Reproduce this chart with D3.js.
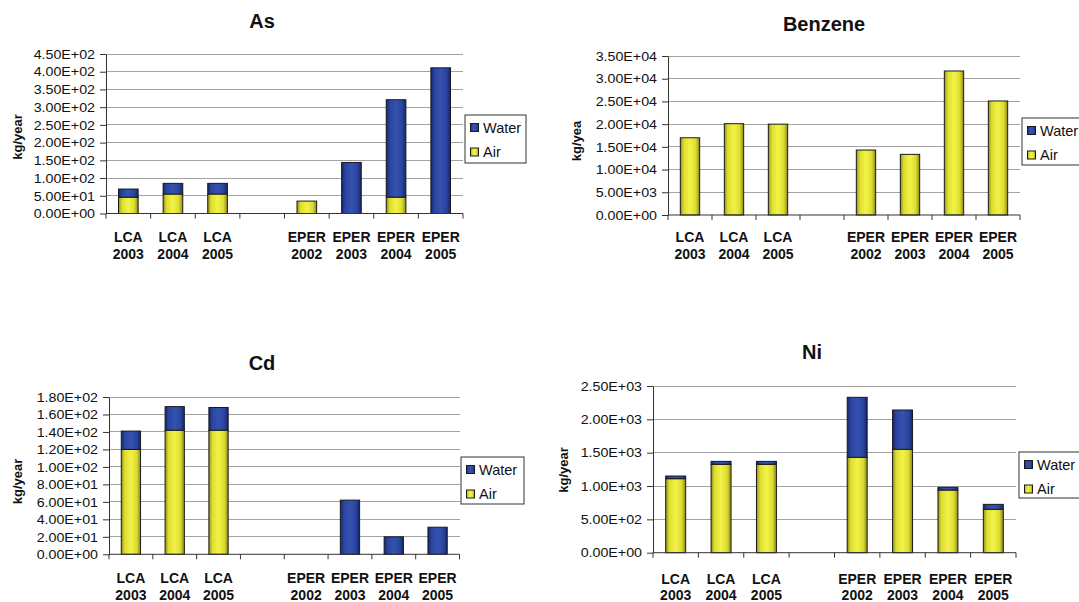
<!DOCTYPE html>
<html><head><meta charset="utf-8">
<script src="https://cdn.jsdelivr.net/npm/d3@7"></script>
<style>
body{margin:0;background:#fff;}
svg{display:block;font-family:"Liberation Sans",Arial,sans-serif;}
</style>
</head><body>
<svg id="c" width="1079" height="602"></svg>
<script>
// ---------- DATA ----------
const categories = ["LCA|2003","LCA|2004","LCA|2005","","EPER|2002","EPER|2003","EPER|2004","EPER|2005"];
const seriesNames = ["Water","Air"];

const asAir   = [46, 55, 55, 0, 35, 0, 46, 0];
const asWater = [23, 30, 30, 0, 0, 144, 275, 411];
const asTicks = [0, 50, 100, 150, 200, 250, 300, 350, 400, 450];

const benzeneAir   = [17000, 20100, 20000, 0, 14300, 13350, 31700, 25100];
const benzeneWater = [0, 0, 0, 0, 0, 0, 0, 0];
const benzeneTicks = [0, 5000, 10000, 15000, 20000, 25000, 30000, 35000];

const cdAir   = [120, 142, 142, 0, 0, 0, 0, 0];
const cdWater = [21, 27, 26, 0, 0, 62, 20, 31];
const cdTicks = [0, 20, 40, 60, 80, 100, 120, 140, 160, 180];

const niAir   = [1110, 1325, 1325, 0, 1430, 1550, 940, 650];
const niWater = [40, 45, 45, 0, 900, 590, 40, 75];
const niTicks = [0, 500, 1000, 1500, 2000, 2500];

const titles = ["As", "Benzene", "Cd", "Ni"];
const yLabels = ["kg/year", "kg/yea", "kg/year", "kg/year"];

// ---------- LAYOUT ----------
const layouts = [
  {x0:106, x1:463, y0:54, y1:213.5, tx:262, ty:21, lx:17, ly:137, leg:[465,115,61,48], xl:[237,254]},
  {x0:668, x1:1020, y0:56, y1:215, tx:824, ty:24, lx:576, ly:141, leg:[1022,118,61,47], xl:[236.7,254]},
  {x0:109, x1:459.5, y0:397, y1:554.3, tx:262, ty:362.7, lx:17, ly:481.5, leg:[461,457,63,47], xl:[578,594.5]},
  {x0:653, x1:1016, y0:386, y1:552.7, tx:812, ty:352.4, lx:563, ly:470, leg:[1019,452,61,46], xl:[578.5,594.5]}
];
const airSeries = [asAir, benzeneAir, cdAir, niAir];
const waterSeries = [asWater, benzeneWater, cdWater, niWater];
const tickSets = [asTicks, benzeneTicks, cdTicks, niTicks];

const svg = d3.select("#c");
const defs = svg.append("defs");
function grad(id, stops){
  const g = defs.append("linearGradient").attr("id", id).attr("x1","0").attr("x2","1").attr("y1","0").attr("y2","0");
  stops.forEach(s => g.append("stop").attr("offset", s[0]).attr("stop-color", s[1]));
}
grad("gAir", [[0,"#8f8f1a"],[0.18,"#dede30"],[0.5,"#f2f248"],[0.8,"#dcdc30"],[1,"#8a8a18"]]);
grad("gWater", [[0,"#17256a"],[0.18,"#2a45a0"],[0.5,"#3552ae"],[0.8,"#2a45a0"],[1,"#16246a"]]);
const fills = {Air:"url(#gAir)", Water:"url(#gWater)"};

function sci(v){
  const s = v.toExponential(2).split("e");
  const e = parseInt(s[1], 10);
  return s[0] + "E" + (e < 0 ? "-" : "+") + String(Math.abs(e)).padStart(2, "0");
}

layouts.forEach((L, p) => {
  const g = svg.append("g");
  const ticks = tickSets[p];
  const rows = categories.map((c, i) => ({i, Air: airSeries[p][i], Water: waterSeries[p][i]}));
  const x = d3.scaleBand().domain(d3.range(categories.length)).range([L.x0, L.x1]).paddingInner(0).paddingOuter(0);
  const y = d3.scaleLinear().domain([0, d3.max(ticks)]).range([L.y1, L.y0]);

  // gridlines
  g.append("g").selectAll("line").data(ticks.filter(t => t > 0)).join("line")
    .attr("x1", L.x0).attr("x2", L.x1)
    .attr("y1", d => y(d)).attr("y2", d => y(d))
    .attr("stroke", "#a3a3a3").attr("stroke-width", 1).attr("shape-rendering","crispEdges");

  // bars
  const stack = d3.stack().keys(["Air","Water"])(rows);
  const bw = x.bandwidth() * 0.44;
  stack.forEach(layer => {
    g.append("g").selectAll("rect").data(layer.filter(d => d[1] - d[0] > 0)).join("rect")
      .attr("x", d => x(d.data.i) + (x.bandwidth() - bw) / 2)
      .attr("width", bw)
      .attr("y", d => y(d[1]))
      .attr("height", d => y(d[0]) - y(d[1]))
      .attr("fill", fills[layer.key])
      .attr("stroke", "#1a1a1a").attr("stroke-width", 1);
  });

  // y axis
  const ya = g.append("g").attr("transform", `translate(${L.x0},0)`)
    .call(d3.axisLeft(y).tickValues(ticks).tickFormat(sci).tickSize(6).tickSizeOuter(0).tickPadding(5));
  ya.select(".domain").attr("stroke", "#333");
  ya.selectAll(".tick line").attr("stroke", "#333");
  ya.selectAll("text").attr("font-size", "13.2px").attr("fill", "#111")
    .attr("font-family", '"Liberation Sans",Arial,sans-serif')
    .attr("x", -11 / 1.08).attr("transform", "scale(1.08,1)");

  // x axis
  const xg = g.append("g");
  xg.append("line").attr("x1", L.x0).attr("x2", L.x1).attr("y1", L.y1).attr("y2", L.y1).attr("stroke", "#333");
  xg.selectAll("line.tk").data(d3.range(categories.length + 1)).join("line").attr("class","tk")
    .attr("x1", i => L.x0 + i * x.step()).attr("x2", i => L.x0 + i * x.step())
    .attr("y1", L.y1).attr("y2", L.y1 + 5).attr("stroke", "#333");
  categories.forEach((c, i) => {
    if (!c) return;
    const parts = c.split("|");
    parts.forEach((t, k) => {
      xg.append("text").attr("x", x(i) + x.bandwidth() / 2).attr("y", L.xl[k])
        .attr("text-anchor", "middle").attr("dominant-baseline", "central")
        .attr("font-size", "14px").attr("font-weight", "bold").attr("fill", "#111").text(t);
    });
  });

  // title
  g.append("text").attr("x", L.tx).attr("y", L.ty).attr("text-anchor", "middle")
    .attr("dominant-baseline", "central").attr("font-size", "20px").attr("font-weight", "bold")
    .attr("fill", "#111").text(titles[p]);

  // y label
  g.append("text").attr("transform", `translate(${L.lx},${L.ly}) rotate(-90)`)
    .attr("text-anchor", "middle").attr("dominant-baseline", "central")
    .attr("font-size", "13px").attr("font-weight", "bold").attr("fill", "#111").text(yLabels[p]);

  // legend
  const [bx, by, bwid, bh] = L.leg;
  const lg = g.append("g");
  lg.append("rect").attr("x", bx).attr("y", by).attr("width", bwid).attr("height", bh)
    .attr("fill", "#fff").attr("stroke", "#333").attr("stroke-width", 1);
  seriesNames.forEach((s, k) => {
    const cy = by + 12.5 + k * 24.5;
    lg.append("rect").attr("x", bx + 5.5).attr("y", cy - 4).attr("width", 8).attr("height", 8)
      .attr("fill", fills[s]).attr("stroke", "#1a1a1a").attr("stroke-width", 1);
    lg.append("text").attr("x", bx + 18).attr("y", cy).attr("dominant-baseline", "central")
      .attr("font-size", "14.5px").attr("fill", "#111").text(s);
  });
});
</script>
</body></html>
